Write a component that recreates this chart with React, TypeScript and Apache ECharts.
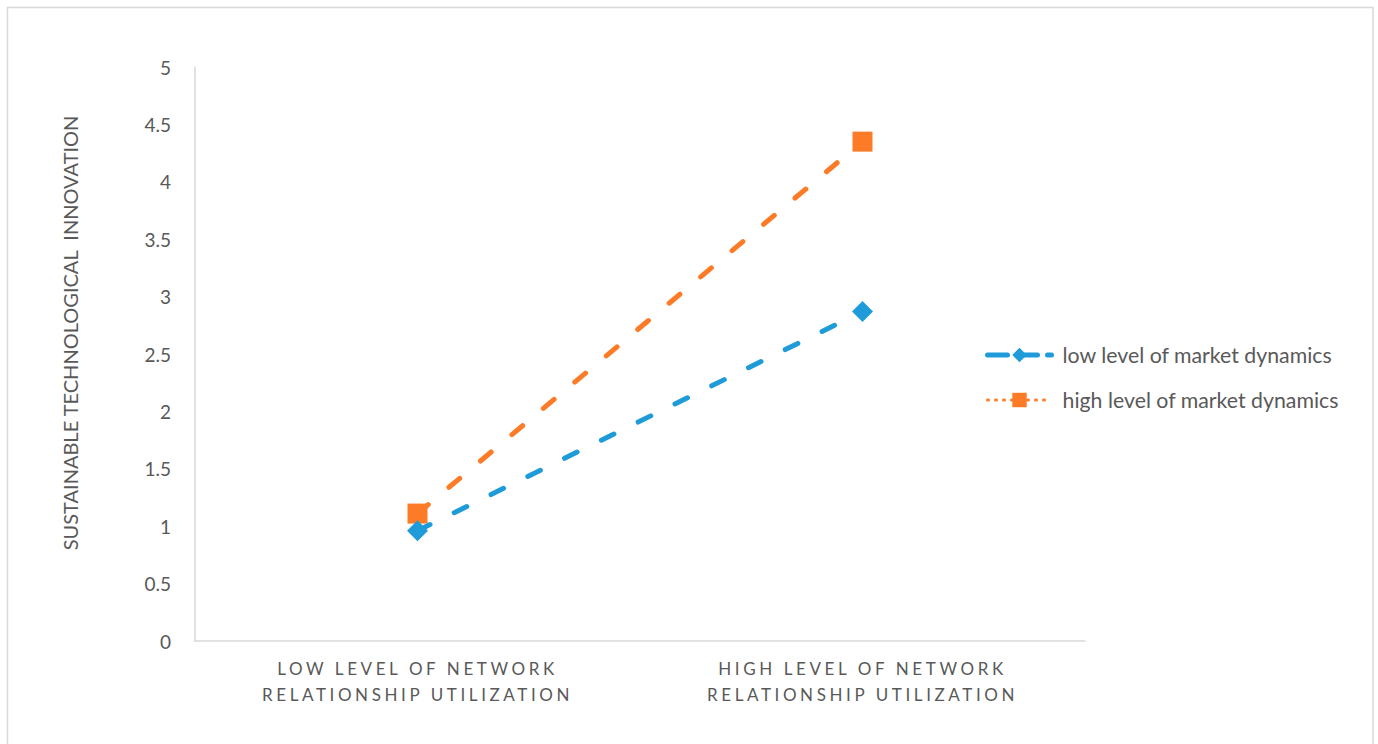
import React, { useEffect, useRef } from "react";
import * as echarts from "echarts";

// Category labels (two lines each) and the two moderator series
const categories = [
  "LOW LEVEL OF NETWORK\nRELATIONSHIP UTILIZATION",
  "HIGH LEVEL OF NETWORK\nRELATIONSHIP UTILIZATION",
];
const seriesNames = ["low level of market dynamics", "high level of market dynamics"];
const lowDynamics = [0.96, 2.87];
const highDynamics = [1.11, 4.35];
const yMin = 0;
const yMax = 5;
const yStep = 0.5;
const yTitle = "SUSTAINABLE TECHNOLOGICAL  INNOVATION";

const BLUE = "#1F9BD9";
const ORANGE = "#FD7B27";
const TEXT = "#595959";
const AXIS = "#D9D9D9";
const FONT = "Lato, 'Open Sans', sans-serif";

const categoryLines = new Set(categories.flatMap((c) => c.split("\n")));

export default function App() {
  const ref = useRef<HTMLDivElement>(null);

  useEffect(() => {
    document.body.style.margin = "0";
    const el = ref.current!;
    const chart = echarts.init(el, undefined, { renderer: "svg" });

    // spread out the uppercase category labels
    const spaceCategoryLabels = () => {
      el.querySelectorAll("text").forEach((t) => {
        if (categoryLines.has((t.textContent || "").trim())) {
          t.setAttribute("letter-spacing", "3.6");
          (t as SVGTextElement).style.letterSpacing = "3.6px";
        }
      });
    };

    chart.setOption({
      animation: false,
      textStyle: { fontFamily: FONT },
      grid: { left: 195, right: 293, top: 67, bottom: 103, containLabel: false },
      graphic: [
        {
          type: "rect",
          shape: { x: 7.5, y: 7.5, width: 1365.5, height: 800 },
          style: { fill: "none", stroke: AXIS, lineWidth: 1.5 },
          silent: true,
        },
        {
          type: "text",
          x: 70,
          y: 333,
          rotation: Math.PI / 2,
          style: {
            text: yTitle,
            fill: TEXT,
            font: `20px ${FONT}`,
            align: "center",
            verticalAlign: "middle",
          },
          silent: true,
        },
      ],
      legend: {
        orient: "vertical",
        left: 980,
        top: 339,
        itemWidth: 64,
        itemHeight: 18,
        itemGap: 23,
        selectedMode: false,
        textStyle: {
          color: TEXT,
          fontSize: 21.3,
          fontFamily: FONT,
          lineHeight: 22,
          padding: [0, 0, 0, 6],
        },
        data: [
          {
            name: seriesNames[0],
            lineStyle: { type: [20, 10], width: 5, cap: "round" },
          },
          {
            name: seriesNames[1],
            lineStyle: { type: [1, 7], width: 3, cap: "round" },
          },
        ],
      },
      xAxis: {
        type: "category",
        data: categories,
        boundaryGap: true,
        axisLine: { show: true, lineStyle: { color: AXIS, width: 1.5 } },
        axisTick: { show: false },
        splitLine: { show: false },
        axisLabel: {
          color: TEXT,
          fontSize: 17,
          fontFamily: FONT,
          lineHeight: 26,
          margin: 14,
          interval: 0,
        },
      },
      yAxis: {
        type: "value",
        min: yMin,
        max: yMax,
        interval: yStep,
        axisLine: { show: true, lineStyle: { color: AXIS, width: 1.5 } },
        axisTick: { show: false },
        splitLine: { show: false },
        axisLabel: {
          color: TEXT,
          fontSize: 19,
          fontFamily: FONT,
          margin: 24,
        },
      },
      series: [
        {
          name: seriesNames[0],
          type: "line",
          data: lowDynamics,
          symbol: "diamond",
          symbolSize: 21,
          itemStyle: { color: BLUE },
          lineStyle: { color: BLUE, width: 5, type: [14, 27], cap: "round" },
          emphasis: { disabled: true },
          silent: true,
          z: 3,
        },
        {
          name: seriesNames[1],
          type: "line",
          data: highDynamics,
          symbol: "rect",
          symbolSize: 20,
          itemStyle: { color: ORANGE },
          lineStyle: { color: ORANGE, width: 5, type: [14, 27], cap: "round" },
          emphasis: { disabled: true },
          silent: true,
          z: 2,
        },
      ],
    });

    spaceCategoryLabels();
    chart.on("finished", spaceCategoryLabels);

    return () => {
      chart.dispose();
    };
  }, []);

  return <div ref={ref} style={{ width: 1378, height: 744 }} />;
}
